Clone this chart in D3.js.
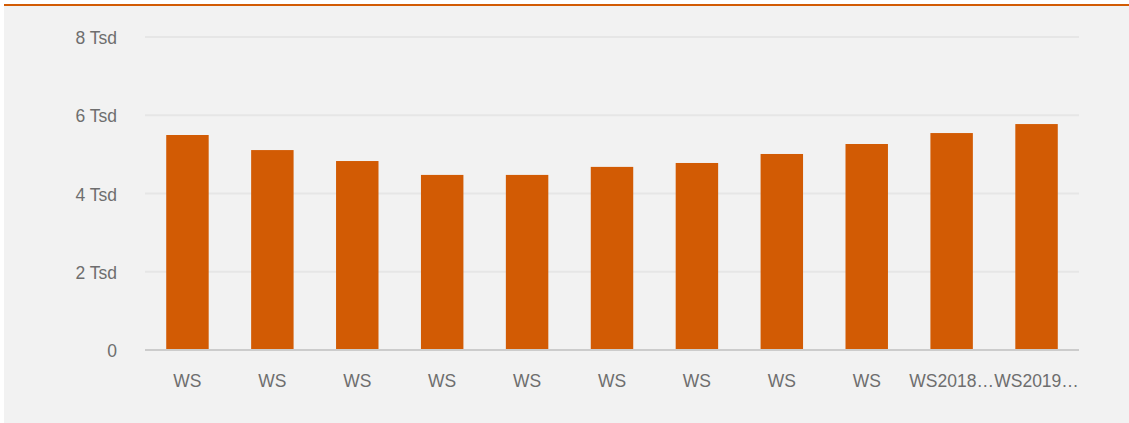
<!DOCTYPE html>
<html>
<head>
<meta charset="utf-8">
<script src="https://cdn.jsdelivr.net/npm/d3@7"></script>
<style>
  html, body { margin: 0; padding: 0; background: #fff; }
  #chart { width: 1129px; height: 423px; }
  text { font-family: "Liberation Sans", Arial, sans-serif; }
</style>
</head>
<body>
<div id="chart"></div>
<script>
// Daten
var categories = ["WS", "WS", "WS", "WS", "WS", "WS", "WS", "WS", "WS", "WS2018…", "WS2019…"]
var values = [5495, 5110, 4830, 4475, 4475, 4680, 4780, 5010, 5265, 5545, 5775]
var yTicks = [0, 2000, 4000, 6000, 8000]

var width = 1129, height = 423
var orange = "#d25b04"

var svg = d3.select("#chart")
    .append("svg")
    .attr("width", width)
    .attr("height", height)

// Hintergrund + oberer Strich
svg.append("rect")
    .attr("x", 4).attr("y", 4)
    .attr("width", width - 4).attr("height", height - 4)
    .attr("fill", "#f2f2f2")
svg.append("rect")
    .attr("x", 4).attr("y", 4)
    .attr("width", width - 4).attr("height", 2)
    .attr("fill", orange)

var x = d3.scaleBand()
    .domain(d3.range(values.length))
    .range([145, 1079])
    .paddingInner(0.5)
    .paddingOuter(0.25)

var y = d3.scaleLinear()
    .domain([0, 8000])
    .range([350, 37])

// Gitterlinien
svg.selectAll(".grid")
    .data(yTicks.slice(1))
    .enter()
    .append("line")
    .attr("x1", 145).attr("x2", 1079)
    .attr("y1", d => y(d)).attr("y2", d => y(d))
    .attr("stroke", "#e6e6e6")
    .attr("stroke-width", 2)

// y-Achse Beschriftung
svg.selectAll(".ylab")
    .data(yTicks)
    .enter()
    .append("text")
    .attr("x", 117)
    .attr("y", d => y(d) + 7)
    .attr("text-anchor", "end")
    .attr("font-size", 17.5)
    .attr("fill", "#6e6e6e")
    .text(d => d == 0 ? "0" : (d / 1000) + " Tsd")

// Balken
svg.selectAll(".bar")
    .data(values)
    .enter()
    .append("rect")
    .attr("x", (d, i) => x(i))
    .attr("y", d => y(d))
    .attr("width", x.bandwidth())
    .attr("height", d => y(0) - y(d))
    .attr("fill", orange)

// Achsenlinie
svg.append("line")
    .attr("x1", 145).attr("x2", 1079)
    .attr("y1", y(0)).attr("y2", y(0))
    .attr("stroke", "#cccccc")
    .attr("stroke-width", 2)

// x-Beschriftung
svg.selectAll(".xlab")
    .data(categories)
    .enter()
    .append("text")
    .attr("x", (d, i) => x(i) + x.bandwidth() / 2)
    .attr("y", 387)
    .attr("text-anchor", "middle")
    .attr("font-size", 17.5)
    .attr("fill", "#6e6e6e")
    .text(d => d)
</script>
</body>
</html>
